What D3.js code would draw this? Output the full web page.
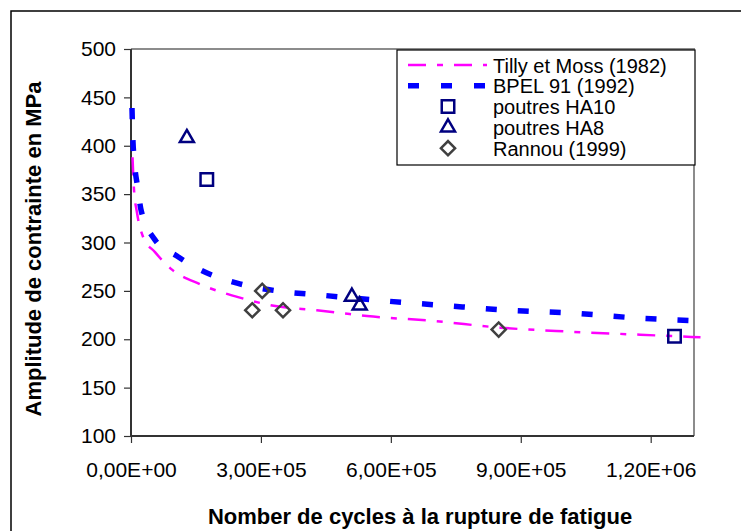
<!DOCTYPE html>
<html>
<head>
<meta charset="utf-8">
<script src="https://cdn.jsdelivr.net/npm/d3@7"></script>
<style>
    body { margin: 0; background: #fff; }
    svg { display: block; font-family: Arial, "Liberation Sans", sans-serif; }
</style>
</head>
<body>
<svg id="chart"></svg>
<script>
// values
const tillyN = [3500, 6900, 13800, 27700, 55400, 94600, 159000, 251500, 337000, 429000, 505000, 545000, 697000, 852000, 1006000, 1159000, 1315000];
const tillyS = [388, 355, 331, 306, 290, 272, 257, 243, 234, 230, 226, 224, 219, 212, 208, 205, 202];

const bpelN = [2300, 4600, 6900, 16000, 23000, 55000, 106000, 173000, 245000, 355000, 429000, 575000, 720000, 870000, 1020000, 1168000, 1315000];
const bpelS = [439, 404, 388, 355, 334, 303, 286, 269, 258, 249, 246, 240, 235, 230, 227, 222, 219];

const ha10N = [175000, 1255000];
const ha10S = [365, 203];

const ha8N = [129000, 510000, 528000];
const ha8S = [408, 244, 235];

const rannouN = [280000, 303000, 351000, 849000];
const rannouS = [230, 250, 230, 210];

const xTicks = [0, 300000, 600000, 900000, 1200000];
const xTickLabels = ["0,00E+00", "3,00E+05", "6,00E+05", "9,00E+05", "1,20E+06"];
const yTicks = [100, 150, 200, 250, 300, 350, 400, 450, 500];

const legendLabels = ["Tilly et Moss (1982)", "BPEL 91 (1992)", "poutres HA10", "poutres HA8", "Rannou (1999)"];

class FatigueChart {
    margin = {
        top: 49, right: 47, bottom: 95, left: 131
    }

    constructor(svg, width = 741, height = 531) {
        this.svg = svg;
        this.width = width;
        this.height = height;
        this.innerW = width - this.margin.left - this.margin.right;
        this.innerH = height - this.margin.top - this.margin.bottom;
    }

    initialize() {
        this.svg = d3.select(this.svg)
            .attr("width", this.width)
            .attr("height", this.height);

        // outer frame of the excel chart object, runs off the right and bottom
        this.svg.append("rect")
            .attr("x", 11).attr("y", 11)
            .attr("width", 800).attr("height", 600)
            .style("fill", "none")
            .style("stroke", "#000")
            .style("stroke-width", 1.5);

        this.xScale = d3.scaleLinear()
            .domain([0, 1300000])
            .range([this.margin.left, this.margin.left + this.innerW]);

        this.yScale = d3.scaleLinear()
            .domain([100, 500])
            .range([this.margin.top + this.innerH, this.margin.top]);

        this.container = this.svg.append("g");
    }

    update() {
        const x = this.xScale, y = this.yScale;
        const x0 = x.range()[0], x1 = x.range()[1];
        const y0 = y.range()[0], y1 = y.range()[1];

        // gray plot-area border (top and right)
        this.container.append("path")
            .attr("d", `M${x0},${y1}H${x1}V${y0}`)
            .style("fill", "none")
            .style("stroke", "#8c8c8c")
            .style("stroke-width", 2);

        const yAxis = this.container.append("g")
            .attr("transform", `translate(${x0},0)`)
            .call(d3.axisLeft(y).tickValues(yTicks).tickSize(7).tickPadding(8).tickFormat(d3.format("d")));

        const xAxis = this.container.append("g")
            .attr("transform", `translate(0,${y0})`)
            .call(d3.axisBottom(x).tickValues(xTicks).tickSize(7).tickPadding(19)
                .tickFormat((d, i) => xTickLabels[i]));

        [xAxis, yAxis].forEach(ax => {
            ax.select(".domain").style("stroke", "#333").style("stroke-width", 2);
            ax.selectAll(".tick line").style("stroke", "#333").style("stroke-width", 1.2);
            ax.selectAll(".tick text")
                .style("font-size", "21px")
                .style("fill", "#000")
                .style("font-family", "Arial, 'Liberation Sans', sans-serif");
        });
        // remove d3 outer tick stubs so the domain is a plain line
        yAxis.select(".domain").attr("d", `M0,${y0}V${y1}`);
        xAxis.select(".domain").attr("d", `M${x0},0H${x1}`);

        // axis titles
        this.svg.append("text")
            .attr("x", 420)
            .attr("y", 524)
            .attr("text-anchor", "middle")
            .attr("font-size", "22px")
            .attr("font-weight", "bold")
            .text("Nomber de cycles à la rupture de fatigue");

        this.svg.append("text")
            .attr("transform", "translate(41,249) rotate(-90)")
            .attr("text-anchor", "middle")
            .attr("font-size", "22px")
            .attr("font-weight", "bold")
            .text("Amplitude de contrainte en MPa");

        // curves
        const line = d3.line().curve(d3.curveMonotoneX).x(d => x(d[0])).y(d => y(d[1]));
        const tilly = tillyN.map((n, i) => [n, tillyS[i]]);
        const bpel = bpelN.map((n, i) => [n, bpelS[i]]);

        this.container.append("path")
            .attr("d", line(tilly))
            .style("fill", "none")
            .style("stroke", "#ff00ff")
            .style("stroke-width", 2.5)
            .style("stroke-dasharray", "18,11,6,11");

        this.container.append("path")
            .attr("d", line(bpel))
            .style("fill", "none")
            .style("stroke", "#0000ff")
            .style("stroke-width", 5.5)
            .style("stroke-dasharray", "11,21");

        // markers
        const square = d3.symbol().type(d3.symbolSquare).size(156);
        const triangle = d3.symbol().type(d3.symbolTriangle).size(85);
        const diamond = d3.symbol().type(d3.symbolSquare).size(100);

        const marks = this.container.append("g");
        marks.selectAll("path.ha10")
            .data(ha10N.map((n, i) => [n, ha10S[i]]))
            .join("path")
            .attr("class", "ha10")
            .attr("d", square)
            .attr("transform", d => `translate(${x(d[0])},${y(d[1])})`)
            .style("fill", "none").style("stroke", "#000080").style("stroke-width", 2.5);

        marks.selectAll("path.ha8")
            .data(ha8N.map((n, i) => [n, ha8S[i]]))
            .join("path")
            .attr("class", "ha8")
            .attr("d", triangle)
            .attr("transform", d => `translate(${x(d[0])},${y(d[1])})`)
            .style("fill", "none").style("stroke", "#000080").style("stroke-width", 2.5);

        marks.selectAll("path.rannou")
            .data(rannouN.map((n, i) => [n, rannouS[i]]))
            .join("path")
            .attr("class", "rannou")
            .attr("d", diamond)
            .attr("transform", d => `translate(${x(d[0])},${y(d[1])}) rotate(45)`)
            .style("fill", "none").style("stroke", "#404040").style("stroke-width", 2.5);

        // legend
        const legend = this.svg.append("g");
        legend.append("rect")
            .attr("x", 397).attr("y", 50)
            .attr("width", 298).attr("height", 115)
            .style("fill", "#fff")
            .style("stroke", "#000")
            .style("stroke-width", 1.2);

        const rowY = i => 65 + i * 20.8;
        legendLabels.forEach((label, i) => {
            legend.append("text")
                .attr("x", 493)
                .attr("y", rowY(i) + 7.5)
                .attr("font-size", "20px")
                .text(label);
        });

        legend.append("line")
            .attr("x1", 408).attr("x2", 487).attr("y1", rowY(0)).attr("y2", rowY(0))
            .style("stroke", "#ff00ff").style("stroke-width", 2.5)
            .style("stroke-dasharray", "18,11,6,11");
        legend.append("line")
            .attr("x1", 408).attr("x2", 487).attr("y1", rowY(1)).attr("y2", rowY(1))
            .style("stroke", "#0000ff").style("stroke-width", 5.5)
            .style("stroke-dasharray", "11,22");
        legend.append("path")
            .attr("d", square)
            .attr("transform", `translate(448,${rowY(2)})`)
            .style("fill", "none").style("stroke", "#000080").style("stroke-width", 2.5);
        legend.append("path")
            .attr("d", triangle)
            .attr("transform", `translate(448,${rowY(3)})`)
            .style("fill", "none").style("stroke", "#000080").style("stroke-width", 2.5);
        legend.append("path")
            .attr("d", diamond)
            .attr("transform", `translate(448,${rowY(4)}) rotate(45)`)
            .style("fill", "none").style("stroke", "#404040").style("stroke-width", 2.5);
    }
}

const chart = new FatigueChart(document.getElementById("chart"));
chart.initialize();
chart.update();
</script>
</body>
</html>
